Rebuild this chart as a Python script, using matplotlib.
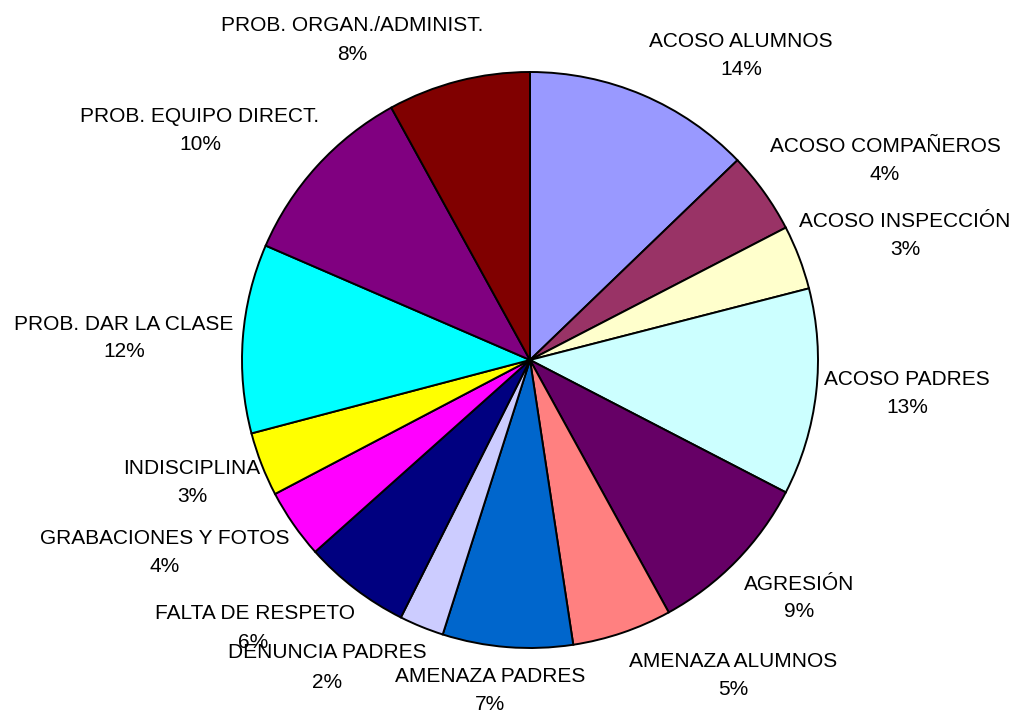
import matplotlib
matplotlib.use("Agg")
import matplotlib.pyplot as plt

categories = ["ACOSO ALUMNOS", "ACOSO COMPAÑEROS", "ACOSO INSPECCIÓN", "ACOSO PADRES",
              "AGRESIÓN", "AMENAZA ALUMNOS", "AMENAZA PADRES", "DENUNCIA PADRES",
              "FALTA DE RESPETO", "GRABACIONES Y FOTOS", "INDISCIPLINA",
              "PROB. DAR LA CLASE", "PROB. EQUIPO DIRECT.", "PROB. ORGAN./ADMINIST."]
# slice sizes as drawn (angles)
values = [12.8, 4.6, 3.6, 11.6, 9.4, 5.6, 7.3, 2.5, 6.0, 3.9, 3.6, 10.6, 10.5, 8.0]
# percentage labels as printed
pct_labels = ["14%", "4%", "3%", "13%", "9%", "5%", "7%", "2%", "6%", "4%", "3%", "12%", "10%", "8%"]
colors = ["#9999FF", "#993366", "#FFFFCC", "#CCFFFF", "#660066", "#FF8080", "#0066CC",
          "#CCCCFF", "#000080", "#FF00FF", "#FFFF00", "#00FFFF", "#800080", "#800000"]

# label layout (pixel positions: centre x, name baseline y, pct centre x, pct baseline y)
label_pos = [(741, 47, 741, 75), (885, 152, 885, 180), (905, 227, 905, 255),
             (907, 385, 907, 413), (799, 590, 799, 617), (733, 667, 733, 695),
             (490, 682, 490, 710), (327, 658, 327, 688), (255, 619, 253, 648),
             (165, 544, 165, 572), (192, 474, 192, 502), (124, 330, 124, 357),
             (200, 122, 200, 150), (352, 31, 352, 60)]

W, H = 1010, 715
cx, cy, R = 530, 360, 288
fig = plt.figure(figsize=(W / 100, H / 100), dpi=100)
ax = fig.add_axes([(cx - R) / W, (H - cy - R) / H, 2 * R / W, 2 * R / H])
ax.pie(values, colors=colors, startangle=90, counterclock=False, radius=1.0,
       wedgeprops=dict(edgecolor="black", linewidth=1.4))
ax.set_xlim(-1, 1)
ax.set_ylim(-1, 1)
ax.set_aspect("equal")
ax.axis("off")

font = dict(family="Liberation Sans", fontsize=15, color="black")
for name, pct, (nx, ny, px, py) in zip(categories, pct_labels, label_pos):
    fig.text(nx / W, 1 - ny / H, name, ha="center", va="baseline", **font)
    fig.text(px / W, 1 - py / H, pct, ha="center", va="baseline", **font)

fig.savefig("out.png", dpi=100)
